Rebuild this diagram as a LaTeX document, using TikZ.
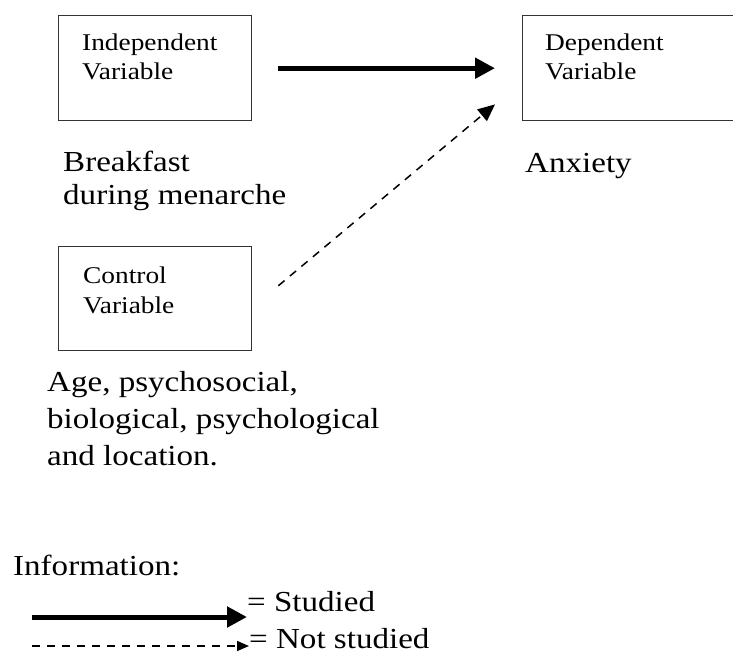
\documentclass[tikz,border=0pt]{standalone}
\usepackage{fontspec}
\setmainfont{Liberation Serif}[FakeStretch=1.14]
\usetikzlibrary{arrows.meta}
\begin{document}
\begin{tikzpicture}[x=1bp,y=-1bp,
  box/.style={draw=black!80, line width=1.4bp, minimum width=193bp, minimum height=105bp, anchor=north west, inner sep=0pt},
  boxtxt/.style={anchor=base west, inner sep=0pt, font=\fontsize{24bp}{29bp}\selectfont},
  bigtxt/.style={anchor=base west, inner sep=0pt, font=\fontsize{29bp}{34bp}\selectfont},
  studied/.style={line width=5bp, -{Triangle[length=20bp,width=20bp]}},
  notstudied/.style={line width=1.5bp, dash pattern=on 8bp off 7bp, -{Triangle[length=17bp,width=15bp]}}]
\useasboundingbox (0,0) rectangle (733,654);
% boxes
\node[box] (ind) at (58,15) {};
\node[box, minimum width=240bp] (dep) at (522,15) {};
\node[box, minimum height=104bp] (ctrl) at (58,246) {};
% box texts
\node[boxtxt] (indt) at (82,51) {\vtop{\baselineskip=29bp\hbox{Independent}\hbox{Variable}}};
\node[boxtxt] (dept) at (545,51) {\vtop{\baselineskip=29bp\hbox{Dependent}\hbox{Variable}}};
\node[boxtxt] (ctrlt) at (83,283) {\vtop{\baselineskip=30bp\hbox{Control}\hbox{Variable}}};
% descriptions
\node[bigtxt] (indd) at (63,171) {\vtop{\baselineskip=33bp\hbox{Breakfast}\hbox{during menarche}}};
\node[bigtxt] (depd) at (525,172) {Anxiety};
\node[bigtxt] (ctrld) at (47,391) {\vtop{\baselineskip=37bp\hbox{Age, psychosocial,}\hbox{biological, psychological}\hbox{and location.}}};
% connectors
\draw[studied] ([xshift=26bp]ind.east) -- ([xshift=-27bp]dep.west);
\draw[notstudied] ([shift={(26,-13)}]ctrl.east) -- ([shift={(-27,-17)}]dep.south west);
% legend
\node[bigtxt] (info) at (13,575) {Information:};
\coordinate (ls) at (32,617);
\node[bigtxt] (stud) at (247,611) {= Studied};
\draw[studied] (ls) -- (ls -| stud.west);
\coordinate (ln) at (32,646);
\node[bigtxt] (nstud) at (249,648) {= Not studied};
\draw[line width=1.5bp, dash pattern=on 8bp off 7bp, -{Triangle[length=12bp,width=10bp]}] (ln) -- (ln -| nstud.west);
\end{tikzpicture}
\end{document}
